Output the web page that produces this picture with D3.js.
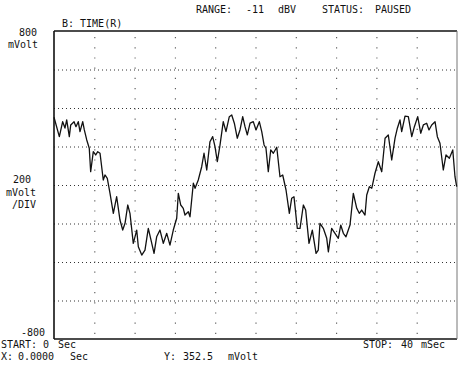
<!DOCTYPE html>
<html>
<head>
<meta charset="utf-8">
<script src="https://cdn.jsdelivr.net/npm/d3@7"></script>
<style>
  html, body { margin: 0; padding: 0; background: #fff; }
  svg text { font-family: "DejaVu Sans Mono", monospace; font-size: 10px; fill: #111; letter-spacing: 0px; }
</style>
</head>
<body>
<svg id="chart" width="458" height="370"></svg>
<script>
// ---- data (time in ms, voltage in mV) ----
const timeMs = [0.00,0.53,0.86,1.09,1.26,1.52,1.66,1.99,2.18,2.41,2.58,2.85,3.01,3.25,3.50,3.64,3.90,4.14,4.34,4.57,
  4.89,5.06,5.29,5.56,5.89,6.22,6.55,6.82,7.05,7.32,7.54,7.87,8.21,8.37,8.71,9.03,9.36,9.63,9.93,10.19,
  10.52,10.85,11.19,11.51,11.84,12.18,12.34,12.58,12.83,13.00,13.33,13.50,13.83,14.00,14.32,14.66,14.89,15.16,15.48,15.75,
  15.98,16.21,16.48,16.80,17.07,17.40,17.64,17.90,18.19,18.46,18.73,18.96,19.19,19.46,19.78,20.05,20.38,20.62,20.85,21.04,
  21.27,21.51,21.77,22.11,22.43,22.70,23.03,23.36,23.59,23.82,24.15,24.42,24.75,24.98,25.31,25.64,26.01,26.23,26.40,26.73,
  27.07,27.23,27.56,27.89,28.22,28.46,28.72,28.98,29.38,29.71,30.05,30.30,30.54,30.87,31.04,31.30,31.54,31.86,32.19,32.53,
  32.86,33.18,33.52,33.85,34.08,34.34,34.51,34.84,35.17,35.51,35.77,36.10,36.40,36.66,36.99,37.22,37.49,37.82,38.05,38.31,
  38.64,38.91,39.24,39.58,39.80,39.97];
const voltage_mV = [352,251,329,296,338,251,312,329,303,329,277,329,286,234,191,69,173,156,173,165,
  26,52,35,-43,-147,-61,-182,-234,-199,-104,-147,-303,-234,-321,-364,-338,-225,-286,-355,-269,
  -234,-303,-251,-312,-234,-173,-43,-104,-121,-156,-139,-165,9,-17,26,95,165,78,225,251,
  199,121,208,329,277,355,364,321,243,286,355,303,260,321,329,286,329,277,208,191,
  69,182,165,196,43,52,-26,-147,-69,-61,-225,-225,-104,-130,-303,-234,-355,-338,-199,-225,
  -277,-347,-225,-251,-277,-208,-251,-269,-208,-43,-121,-147,-130,-156,-52,-9,-17,61,121,69,
  243,260,130,243,295,338,277,358,355,251,303,355,269,312,321,286,312,329,251,217,
  78,156,139,182,43,-9];

const xDomain = [0, 40];          // ms
const yDomain = [-800, 800];      // mV
const xGridTicks = [4, 8, 12, 16, 20, 24, 28, 32, 36];
const yGridTicks = [-600, -400, -200, 0, 200, 400, 600];

const headerTexts = ["RANGE:", "-11", "dBV", "STATUS:", "PAUSED"];
const traceTitle = "B: TIME(R)";
const topLabel = ["800", "mVolt"];
const midLabel = ["200", "mVolt", "/DIV"];
const bottomLabel = "-800";
const footerLine1 = ["START:", "0", "Sec"];
const footerStop = ["STOP:", "40", "mSec"];
const footerLine2 = ["X:", "0.0000", "Sec", "Y:", "352.5", "mVolt"];

// ---- layout ----
const svg = d3.select("#chart");
const L = 54, R = 457, T = 31, B = 339;
const x = d3.scaleLinear().domain(xDomain).range([L, R]);
const y = d3.scaleLinear().domain(yDomain).range([B, T]);

// grid: horizontal dotted lines
svg.append("g")
  .attr("transform", `translate(${L},0)`)
  .call(d3.axisLeft(y).tickValues(yGridTicks).tickSize(-(R - L)).tickFormat(""))
  .call(g => g.select(".domain").remove())
  .call(g => g.selectAll(".tick line")
    .attr("stroke", "#333").attr("stroke-width", 1).attr("stroke-dasharray", "1,3"));

// grid: vertical sparse dotted lines
svg.append("g")
  .attr("transform", `translate(0,${T})`)
  .call(d3.axisBottom(x).tickValues(xGridTicks).tickSize(B - T).tickFormat(""))
  .call(g => g.select(".domain").remove())
  .call(g => g.selectAll(".tick line")
    .attr("stroke", "#555").attr("stroke-width", 1.1).attr("stroke-dasharray", "1.2,9").attr("stroke-dashoffset", -6));

// frame
svg.append("line").attr("x1", L).attr("x2", L).attr("y1", T).attr("y2", B).attr("stroke", "#111").attr("stroke-width", 1.6);
svg.append("line").attr("x1", L).attr("x2", R).attr("y1", T).attr("y2", T).attr("stroke", "#111").attr("stroke-width", 1.6);
svg.append("line").attr("x1", L).attr("x2", R).attr("y1", B).attr("y2", B).attr("stroke", "#111").attr("stroke-width", 1.6);
svg.append("line").attr("x1", R).attr("x2", R).attr("y1", T).attr("y2", B).attr("stroke", "#777").attr("stroke-width", 1);

// trace
const line = d3.line().x((d, i) => x(timeMs[i])).y(d => y(d));
svg.append("path").datum(voltage_mV)
  .attr("d", line)
  .attr("fill", "none").attr("stroke", "#111").attr("stroke-width", 1.3).attr("stroke-linejoin", "round");

// texts
function put(str, px, py, anchor) {
  svg.append("text").attr("x", px).attr("y", py).attr("text-anchor", anchor || "start").text(str);
}
const headerX = [196, 246, 278, 322, 375];
headerTexts.forEach((s, i) => put(s, headerX[i], 13));
put(traceTitle, 62, 27);

put(topLabel[0], 37, y(800) + 5, "end");
put(topLabel[1], 38, y(800) + 17, "end");
put(midLabel[0], 31, y(0) - 2, "end");
put(midLabel[1], 36, y(0) + 11, "end");
put(midLabel[2], 36, y(0) + 23, "end");
put(bottomLabel, 45, y(-800) - 3, "end");

const f1x = [1, 43, 58];
footerLine1.forEach((s, i) => put(s, f1x[i], 348));
const fsx = [363, 401, 421];
footerStop.forEach((s, i) => put(s, fsx[i], 348));
const f2x = [1, 18, 70, 164, 183, 228];
footerLine2.forEach((s, i) => put(s, f2x[i], 360));
</script>
</body>
</html>
